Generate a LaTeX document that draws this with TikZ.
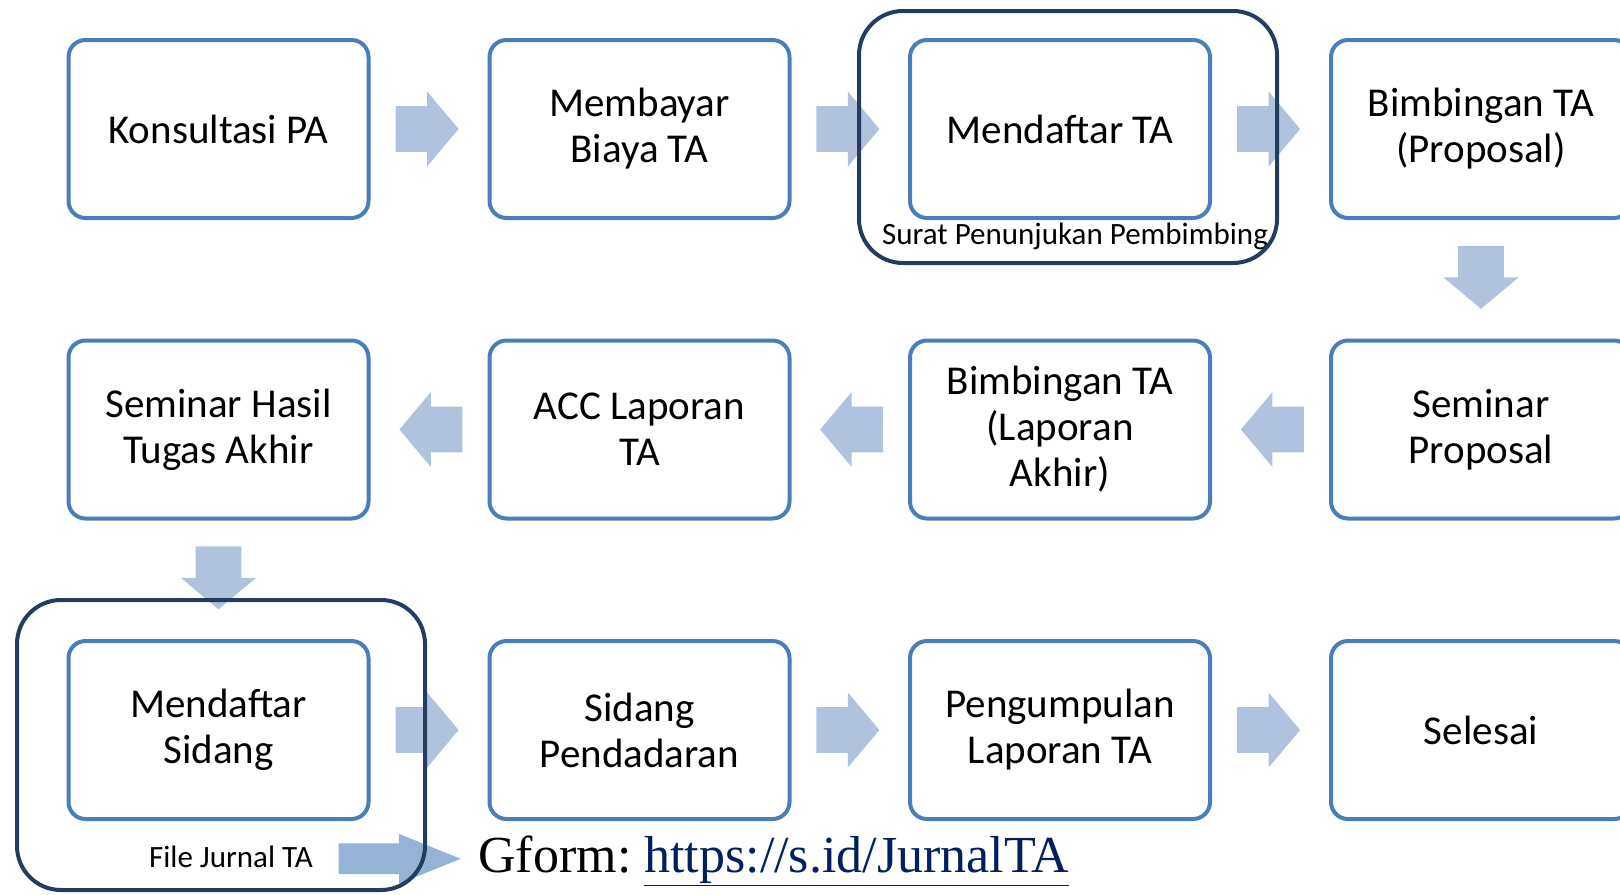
\documentclass[tikz,border=0pt]{standalone}
\usepackage{fontspec}
\setmainfont{Carlito}
\newfontfamily\linkfont{Liberation Serif}
\usepackage{tikz}
\usetikzlibrary{shapes.arrows,calc}

\definecolor{boxline}{RGB}{74,126,187}
\definecolor{groupline}{RGB}{36,60,96}
\definecolor{flowarrow}{RGB}{176,194,222}
\definecolor{formarrow}{RGB}{149,179,215}
\definecolor{linkblue}{RGB}{0,32,96}

\begin{document}
\begin{tikzpicture}[
  x=0.5pt, y=-0.5pt,
  stage/.style={draw=boxline, line width=2pt, rounded corners=8.5pt, fill=white,
    minimum width=150pt, minimum height=89pt, align=center, inner sep=0pt,
    font=\fontsize{20.5}{23}\selectfont},
  group/.style={draw=groupline, line width=2pt, rounded corners=22pt},
  flow/.style={single arrow, fill=flowarrow, inner xsep=0pt, inner ysep=11.25pt,
    minimum height=31.5pt, single arrow head extend=7.25pt,
    single arrow tip angle=100, single arrow head indent=0pt},
  note/.style={font=\fontsize{15.5}{18}\selectfont, inner sep=0pt, anchor=base}]
    \clip (0,0) rectangle (1620,894);
    % row 1
    \node[stage] (konsultasi) at (218.5,129) {Konsultasi PA};
    \node[stage] (bayar) at (639.5,129) {Membayar\\Biaya TA};
    \node[stage] (daftar) at (1060,129) {Mendaftar TA};
    \node[stage] (bimprop) at (1481,129) {Bimbingan TA\\(Proposal)};
    % row 2
    \node[stage] (semprop) at (1481,429.5) {Seminar\\Proposal};
    \node[stage] (bimlap) at (1060,429.5) {Bimbingan TA\\(Laporan\\Akhir)};
    \node[stage] (acc) at (639.5,429.5) {ACC Laporan\\TA};
    \node[stage] (semhasil) at (218.5,429.5) {Seminar Hasil\\Tugas Akhir};
    % row 3
    \node[stage] (daftarsidang) at (218.5,730) {Mendaftar\\Sidang};
    \node[stage] (pendadaran) at (639.5,730) {Sidang\\Pendadaran};
    \node[stage] (kumpul) at (1060,730) {Pengumpulan\\Laporan TA};
    \node[stage] (selesai) at (1481,730) {Selesai};

    \foreach \from/\to/\dir in {konsultasi/bayar/0, bayar/daftar/0, daftar/bimprop/0,
        bimprop/semprop/-90, semprop/bimlap/180, bimlap/acc/180, acc/semhasil/180,
        semhasil/daftarsidang/-90, daftarsidang/pendadaran/0, pendadaran/kumpul/0,
        kumpul/selesai/0}
      \node[flow, rotate=\dir, xshift=-5.75pt] (to\to) at ($(\from)!0.5!(\to)$) {};

    \node[note] (surat) at (1075,244) {Surat Penunjukan Pembimbing};
    \node[note] (jurnal) at (231,867) {File Jurnal TA};
    \node[anchor=base west, inner sep=0pt, font=\linkfont\fontsize{26}{28}\selectfont]
      (gform) at (478,872) {\frenchspacing Gform: \textcolor{linkblue}{\underline{https://s.id/JurnalTA}}};
    \node[single arrow, fill=formarrow, inner xsep=0pt, inner ysep=7.5pt, minimum height=61pt,
      single arrow head extend=4.75pt, single arrow tip angle=44,
      single arrow head indent=0pt, xshift=-7.5pt] (toform) at ($(jurnal.east)!0.5!(gform.west)$) {};

    \draw[group] (859,11) rectangle (1277,263);
    \draw[group] (17,600) rectangle (425,890);
\end{tikzpicture}
\end{document}
